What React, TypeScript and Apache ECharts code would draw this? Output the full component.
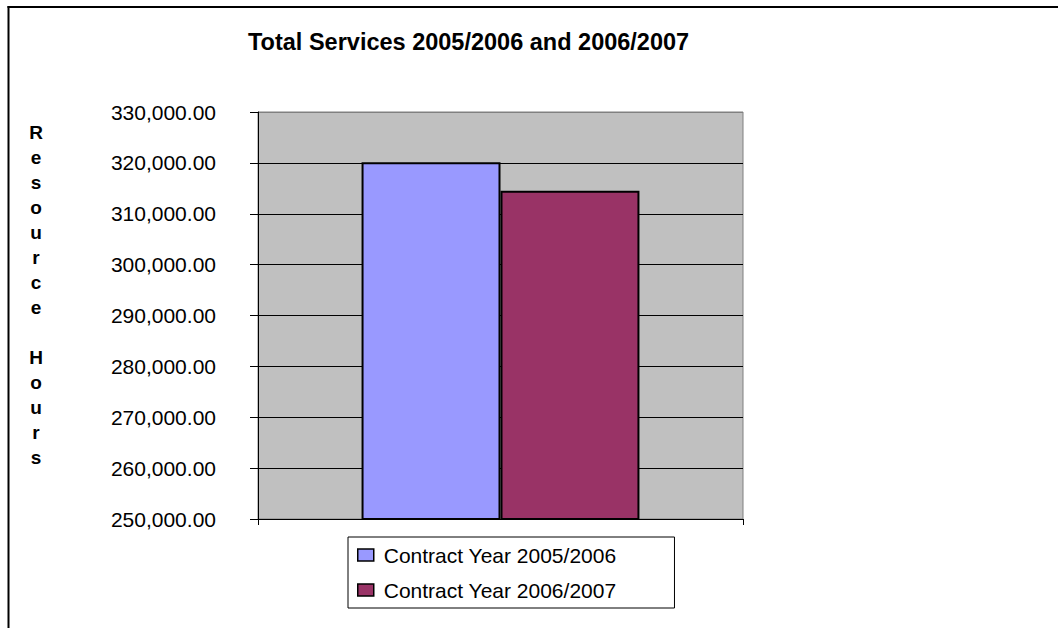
import React, { useEffect, useRef } from "react";
import * as echarts from "echarts";

const categories = [""];
const seriesNames = ["Contract Year 2005/2006", "Contract Year 2006/2007"];
const values2005 = [320100];
const values2006 = [314500];
const yMin = 250000;
const yMax = 330000;
const yStep = 10000;
const titleText = "Total Services 2005/2006 and 2006/2007";
const yAxisTitle = "Resource Hours";

const FONT = "'Liberation Sans', Arial, sans-serif";

export default function App() {
  const ref = useRef<HTMLDivElement>(null);
  useEffect(() => {
    if (!ref.current) return;
    const chart = echarts.init(ref.current, undefined, { renderer: "svg" });
    const verticalName = yAxisTitle.split("").join("\n");
    const nLines = Math.round((yMax - yMin) / yStep) + 1;
    const splitColors: string[] = [];
    for (let i = 0; i < nLines; i++) splitColors.push(i === nLines - 1 ? "#808080" : "#000");
    chart.setOption({
      animation: false,
      backgroundColor: "#ffffff",
      title: {
        text: titleText,
        left: 248,
        top: 30,
        padding: 0,
        textStyle: { fontFamily: FONT, fontSize: 23.5, fontWeight: "bold", color: "#000" },
      },
      legend: {
        orient: "vertical",
        left: 348,
        top: 537,
        padding: [6, 58, 6, 9],
        itemGap: 11,
        itemWidth: 16,
        itemHeight: 12,
        icon: "rect",
        borderColor: "#000",
        borderWidth: 1,
        backgroundColor: "#fff",
        textStyle: { fontFamily: FONT, fontSize: 21, color: "#000", lineHeight: 24, padding: [0, 0, 0, 5] },
        itemStyle: { borderColor: "#000", borderWidth: 1.5 },
        data: seriesNames,
      },
      grid: {
        left: 258,
        top: 112,
        right: 315,
        bottom: 109,
        show: true,
        backgroundColor: "#C0C0C0",
        borderColor: "#808080",
        borderWidth: 1,
        containLabel: false,
      },
      xAxis: {
        type: "category",
        data: categories,
        boundaryGap: true,
        axisLine: { show: true, lineStyle: { color: "#000", width: 1 } },
        axisTick: { show: true, length: 6, alignWithLabel: false, lineStyle: { color: "#000" } },
        axisLabel: { show: false },
        splitLine: { show: false },
      },
      yAxis: {
        type: "value",
        min: yMin,
        max: yMax,
        interval: yStep,
        axisLine: { show: true, lineStyle: { color: "#000", width: 1 } },
        axisTick: { show: true, length: 8, inside: false, lineStyle: { color: "#000" } },
        axisLabel: {
          margin: 42,
          fontFamily: FONT,
          fontSize: 21,
          color: "#000",
          formatter: (v: number) =>
            v.toLocaleString("en-US", { minimumFractionDigits: 2, maximumFractionDigits: 2 }),
        },
        splitLine: { show: true, lineStyle: { color: splitColors, width: 1 } },
      },
      series: [
        {
          name: seriesNames[0],
          type: "bar",
          data: values2005,
          barGap: "0%",
          barCategoryGap: "42.7%",
          itemStyle: { color: "#9999FF", borderColor: "#000", borderWidth: 2 },
        },
        {
          name: seriesNames[1],
          type: "bar",
          data: values2006,
          barGap: "0%",
          barCategoryGap: "42.7%",
          itemStyle: { color: "#993366", borderColor: "#000", borderWidth: 2 },
        },
      ],
      graphic: [
        {
          type: "line",
          shape: { x1: 7.5, y1: 7, x2: 1058, y2: 7 },
          style: { stroke: "#000", lineWidth: 2 },
        },
        {
          type: "line",
          shape: { x1: 8.5, y1: 6, x2: 8.5, y2: 628 },
          style: { stroke: "#000", lineWidth: 2 },
        },
        {
          type: "text",
          x: 36,
          y: 119.5,
          style: {
            text: verticalName,
            fontFamily: FONT,
            fontSize: 19,
            fontWeight: "bold",
            lineHeight: 25,
            fill: "#000",
            textAlign: "center",
            textVerticalAlign: "top",
          },
        },
      ],
    });
    return () => chart.dispose();
  }, []);
  return (
    <div
      ref={ref}
      style={{ position: "fixed", left: 0, top: 0, width: 1058, height: 628 }}
    />
  );
}
